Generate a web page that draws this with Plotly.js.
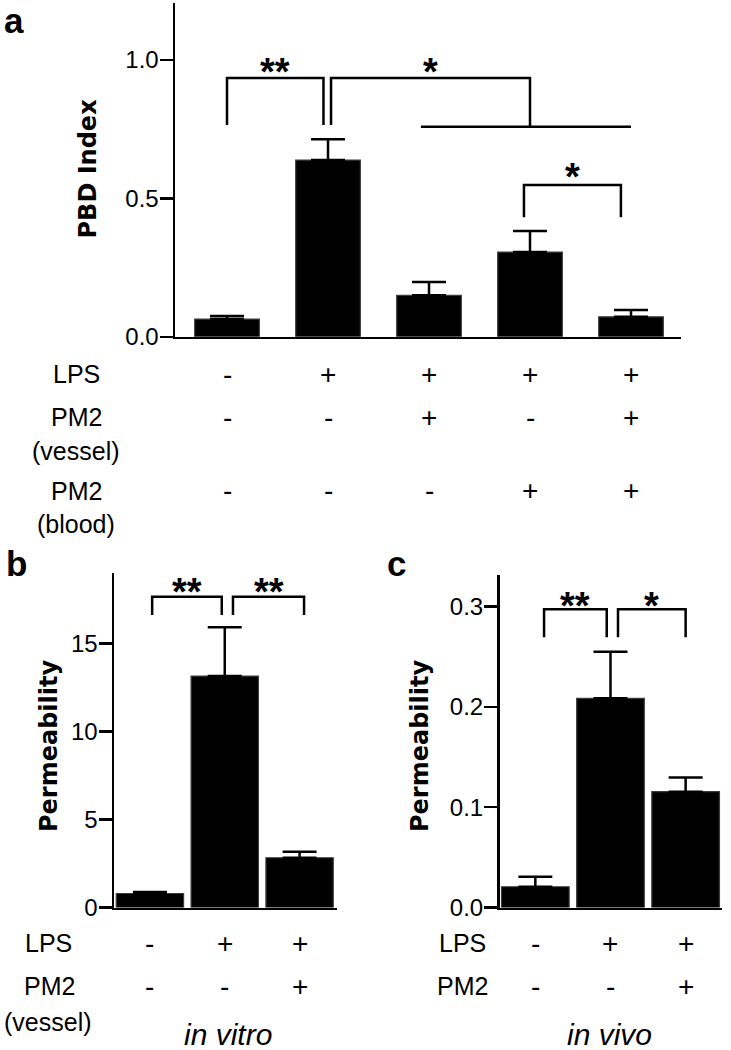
<!DOCTYPE html>
<html>
<head>
<meta charset="utf-8">
<script src="https://cdn.plot.ly/plotly-3.0.1.min.js"></script>
<style>html,body{margin:0;padding:0;background:#fff;}#chart{width:731px;height:1050px;}</style>
</head>
<body>
<div id="chart"></div>
<script>
// ---------------- DATA ----------------
// Panel a: PBD index
const groupsA = [0, 1, 2, 3, 4];
const pbdMean = [0.064, 0.638, 0.150, 0.306, 0.072];
const pbdErr  = [0.011, 0.075, 0.048, 0.076, 0.025];
const lpsA       = ['-', '+', '+', '+', '+'];
const pm2VesselA = ['-', '-', '+', '-', '+'];
const pm2BloodA  = ['-', '-', '-', '+', '+'];

// Panel b: permeability in vitro
const groupsB = [0, 1, 2];
const permVitroMean = [0.80, 13.14, 2.83];
const permVitroErr  = [0.08, 2.77, 0.34];
const lpsB = ['-', '+', '+'];
const pm2B = ['-', '-', '+'];

// Panel c: permeability in vivo
const groupsC = [0, 1, 2];
const permVivoMean = [0.0207, 0.2086, 0.1155];
const permVivoErr  = [0.0100, 0.0465, 0.0140];
const lpsC = ['-', '+', '+'];
const pm2C = ['-', '-', '+'];

// significance labels
const sigA = ['**', '*', '*'];
const sigB = ['**', '**'];
const sigC = ['**', '*'];

// ---------------- LAYOUT HELPERS ----------------
const W = 731, H = 1050;
const px = v => v / W;
const py = v => 1 - v / H;

const tickFont = {family: 'Liberation Sans, Arial, sans-serif', size: 24, color: '#000'};
const rowFont  = {family: 'Liberation Sans, Arial, sans-serif', size: 25, color: '#000'};
const signFont = {family: 'Liberation Sans, Arial, sans-serif', size: 28, color: '#000'};
const starFont = {family: 'Liberation Sans, Arial, sans-serif', size: 38, color: '#000', weight: 'bold'};
const titleFont = {family: 'DejaVu Sans, sans-serif', size: 24, color: '#000', weight: 'bold'};
const letterFont = {family: 'Liberation Sans, Arial, sans-serif', size: 35, color: '#000', weight: 'bold'};
const italicFont = {family: 'Liberation Sans, Arial, sans-serif', size: 30, color: '#000', style: 'italic'};

function barTrace(x, y, err, xa, ya, w) {
  return {
    type: 'bar', x: x, y: y, xaxis: xa, yaxis: ya, width: w,
    marker: {color: '#000', line: {color: '#3c3c3c', width: 1.2}},
    error_y: {type: 'data', symmetric: false, array: err, arrayminus: err.map(() => 0),
              color: '#000', thickness: 2.5, width: 17},
    hoverinfo: 'skip', showlegend: false
  };
}

const data = [
  barTrace(groupsA, pbdMean, pbdErr, 'x', 'y', 0.64),
  barTrace(groupsB, permVitroMean, permVitroErr, 'x2', 'y2', 0.9),
  barTrace(groupsC, permVivoMean, permVivoErr, 'x3', 'y3', 0.9)
];

function xAx(domain, range) {
  return {domain: domain, range: range, showline: true, linewidth: 2.5, linecolor: '#000',
          ticks: '', showticklabels: false, showgrid: false, zeroline: false, fixedrange: true};
}
function yAx(domain, range, tv, tt, anchor) {
  return {domain: domain, range: range, anchor: anchor, showline: true, linewidth: 2.5, linecolor: '#000',
          ticks: 'outside', ticklen: 13, tickwidth: 2.5, tickcolor: '#000',
          tickvals: tv, ticktext: tt, tickfont: tickFont, ticklabelstandoff: -4,
          showgrid: false, zeroline: false, fixedrange: true};
}

const shapes = [];
function bracket(xref, yref, x0, x1, yTop, yL, yR) {
  shapes.push({type: 'path', xref: xref, yref: yref,
    path: `M ${x0},${yL} L ${x0},${yTop} L ${x1},${yTop} L ${x1},${yR}`,
    line: {color: '#000', width: 2.5}});
}
function hline(xref, yref, x0, x1, y) {
  shapes.push({type: 'line', xref: xref, yref: yref, x0: x0, x1: x1, y0: y, y1: y,
    line: {color: '#000', width: 2.5}});
}

const annotations = [];
function ann(o) {
  annotations.push(Object.assign({showarrow: false, xanchor: 'center', yanchor: 'middle', borderpad: 0}, o));
}
function star(xref, yref, x, y, t) {
  ann({xref: xref, yref: yref, x: x, y: y, text: t, font: starFont, yshift: -9});
}

// ---- Panel a brackets ----
bracket('x', 'y', 0, 0.955, 0.934, 0.765, 0.765);
star('x', 'y', (0 + 0.955) / 2, 0.988, sigA[0]);
bracket('x', 'y', 1.03, 3.0, 0.934, 0.765, 0.758);
hline('x', 'y', 1.92, 4.0, 0.758);
star('x', 'y', (1.03 + 3.0) / 2, 0.988, sigA[1]);
bracket('x', 'y', 2.94, 3.9, 0.548, 0.432, 0.432);
star('x', 'y', (2.94 + 3.9) / 2, 0.609, sigA[2]);

// ---- Panel b brackets ----
bracket('x2', 'y2', 0.03, 0.96, 17.64, 16.6, 16.6);
star('x2', 'y2', (0.03 + 0.96) / 2, 18.45, sigB[0]);
bracket('x2', 'y2', 1.11, 2.06, 17.64, 16.6, 16.6);
star('x2', 'y2', (1.11 + 2.06) / 2, 18.45, sigB[1]);

// ---- Panel c brackets ----
bracket('x3', 'y3', 0.116, 0.95, 0.2973, 0.2694, 0.2694);
star('x3', 'y3', (0.116 + 0.95) / 2, 0.310, sigC[0]);
bracket('x3', 'y3', 1.10, 2.0, 0.2973, 0.2694, 0.2694);
star('x3', 'y3', (1.10 + 2.0) / 2, 0.310, sigC[1]);

// ---- Panel letters ----
ann({xref: 'paper', yref: 'paper', x: px(14), y: py(20), text: 'a', font: letterFont});
ann({xref: 'paper', yref: 'paper', x: px(16), y: py(563), text: 'b', font: letterFont});
ann({xref: 'paper', yref: 'paper', x: px(396), y: py(563), text: 'c', font: letterFont});

// ---- Axis titles ----
ann({xref: 'paper', yref: 'paper', x: px(88), y: py(168.5), text: 'PBD Index', font: titleFont, textangle: -90});
ann({xref: 'paper', yref: 'paper', x: px(49), y: py(746), text: 'Permeability', font: titleFont, textangle: -90});
ann({xref: 'paper', yref: 'paper', x: px(420), y: py(746), text: 'Permeability', font: titleFont, textangle: -90});

// ---- Panel a condition rows ----
ann({xref: 'paper', yref: 'paper', x: px(76), y: py(374), text: 'LPS', font: rowFont});
ann({xref: 'paper', yref: 'paper', x: px(76), y: py(417), text: 'PM2', font: rowFont});
ann({xref: 'paper', yref: 'paper', x: px(76), y: py(451), text: '(vessel)', font: rowFont});
ann({xref: 'paper', yref: 'paper', x: px(76), y: py(491), text: 'PM2', font: rowFont});
ann({xref: 'paper', yref: 'paper', x: px(76), y: py(524), text: '(blood)', font: rowFont});
groupsA.forEach((g, i) => {
  ann({xref: 'x', yref: 'paper', x: g, y: py(374), text: lpsA[i], font: signFont});
  ann({xref: 'x', yref: 'paper', x: g, y: py(417), text: pm2VesselA[i], font: signFont});
  ann({xref: 'x', yref: 'paper', x: g, y: py(490), text: pm2BloodA[i], font: signFont});
});

// ---- Panel b condition rows ----
ann({xref: 'paper', yref: 'paper', x: px(48), y: py(943), text: 'LPS', font: rowFont});
ann({xref: 'paper', yref: 'paper', x: px(49), y: py(986), text: 'PM2', font: rowFont});
ann({xref: 'paper', yref: 'paper', x: px(48), y: py(1022), text: '(vessel)', font: rowFont});
groupsB.forEach((g, i) => {
  ann({xref: 'x2', yref: 'paper', x: g, y: py(943), text: lpsB[i], font: signFont});
  ann({xref: 'x2', yref: 'paper', x: g, y: py(986), text: pm2B[i], font: signFont});
});
ann({xref: 'paper', yref: 'paper', x: px(228), y: py(1034.5), text: 'in vitro', font: italicFont});

// ---- Panel c condition rows ----
ann({xref: 'paper', yref: 'paper', x: px(463), y: py(943), text: 'LPS', font: rowFont});
ann({xref: 'paper', yref: 'paper', x: px(463), y: py(986), text: 'PM2', font: rowFont});
groupsC.forEach((g, i) => {
  ann({xref: 'x3', yref: 'paper', x: g, y: py(943), text: lpsC[i], font: signFont});
  ann({xref: 'x3', yref: 'paper', x: g, y: py(986), text: pm2C[i], font: signFont});
});
ann({xref: 'paper', yref: 'paper', x: px(609), y: py(1034.5), text: 'in vivo', font: italicFont});

const layout = {
  width: W, height: H,
  margin: {l: 0, r: 0, t: 0, b: 0, pad: 0},
  paper_bgcolor: '#fff', plot_bgcolor: '#fff',
  showlegend: false, bargap: 0,
  xaxis:  xAx([px(175), px(681)], [-0.515, 4.495]),
  yaxis:  yAx([py(336.8), py(3)], [0, 1.205], [0, 0.5, 1.0], ['0.0', '0.5', '1.0'], 'x'),
  xaxis2: Object.assign(xAx([px(114), px(337)], [-0.48, 2.5]), {anchor: 'y2'}),
  yaxis2: yAx([py(907.6), py(573)], [0, 18.99], [0, 5, 10, 15], ['0', '5', '10', '15'], 'x2'),
  xaxis3: Object.assign(xAx([px(499.5), px(721.7)], [-0.477, 2.48]), {anchor: 'y3'}),
  yaxis3: yAx([py(907.5), py(575)], [0, 0.3315], [0, 0.1, 0.2, 0.3], ['0.0', '0.1', '0.2', '0.3'], 'x3'),
  shapes: shapes,
  annotations: annotations
};
layout.xaxis.anchor = 'y';

Plotly.newPlot('chart', data, layout, {staticPlot: true, displayModeBar: false});
</script>
</body>
</html>
